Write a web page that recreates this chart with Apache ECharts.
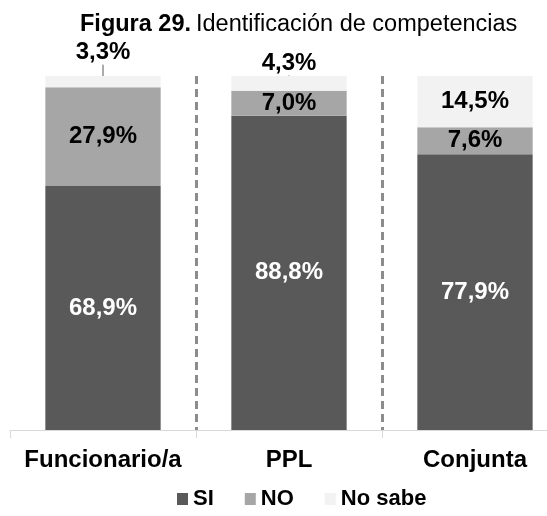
<!DOCTYPE html>
<html>
<head>
<meta charset="utf-8">
<script src="https://cdn.jsdelivr.net/npm/echarts@6/dist/echarts.min.js"></script>
<style>
  html, body { margin: 0; padding: 0; background: #fff; }
  #chart { width: 547px; height: 516px; }
</style>
</head>
<body>
<div id="chart"></div>
<script>
const categories = ['Funcionario/a', 'PPL', 'Conjunta'];
const siValues = [68.9, 88.8, 77.9];
const noValues = [27.9, 7.0, 7.6];
const noSabeValues = [3.3, 4.3, 14.5];
// the two small "No sabe" slices get their label pulled up with a leader line
const noSabeLift = [-29, -20, 0];

const FONT = 'Arial, "Liberation Sans", sans-serif';
const fmt = v => v.toFixed(1).replace('.', ',') + '%';

const chart = echarts.init(document.getElementById('chart'));

// the original picture is cropped on the right, so the plot runs past the canvas
chart.setOption({
    animation: false,
    title: {
        text: '{b|Figura 29.} {n|Identificación de competencias}',
        left: 75,
        top: 8,
        textStyle: {
            rich: {
                b: { fontFamily: FONT, fontSize: 23.5, fontWeight: 'bold', color: '#000' },
                n: { fontFamily: FONT, fontSize: 23.5, fontWeight: 'normal', color: '#000' }
            }
        }
    },
    legend: {
        bottom: 1,
        left: 172,
        itemWidth: 11,
        itemHeight: 12,
        itemGap: 31,
        icon: 'rect',
        textStyle: { fontFamily: FONT, fontSize: 22, fontWeight: 'bold', color: '#000' },
        data: ['SI', 'NO', 'No sabe']
    },
    grid: { left: 10, width: 558, top: 76, bottom: 86, outerBoundsMode: 'none' },
    xAxis: {
        type: 'category',
        data: categories,
        axisLine: { lineStyle: { color: '#d9d9d9', width: 1 } },
        axisTick: { show: true, length: 8, lineStyle: { color: '#d9d9d9' } },
        axisLabel: { interval: 0, margin: 18, fontFamily: FONT, fontSize: 24, fontWeight: 'bold', color: '#000' },
        splitLine: {
            show: true,
            interval: function (index) { return index > 0; },
            lineStyle: { color: '#8c8c8c', width: 3, type: [8, 5] }
        }
    },
    yAxis: {
        type: 'value',
        min: 0,
        max: 100,
        show: false
    },
    series: [
        {
            name: 'SI',
            type: 'bar',
            stack: 'tot',
            barWidth: '62%',
            itemStyle: { color: '#595959' },
            label: {
                show: true, position: 'inside', formatter: p => fmt(p.value),
                fontFamily: FONT, fontSize: 24, fontWeight: 'bold', color: '#fff'
            },
            data: siValues
        },
        {
            name: 'NO',
            type: 'bar',
            stack: 'tot',
            itemStyle: { color: '#a6a6a6' },
            label: {
                show: true, position: 'inside', formatter: p => fmt(p.value),
                fontFamily: FONT, fontSize: 24, fontWeight: 'bold', color: '#000'
            },
            data: noValues
        },
        {
            name: 'No sabe',
            type: 'bar',
            stack: 'tot',
            itemStyle: { color: '#f2f2f2' },
            label: {
                show: true, position: 'inside', formatter: p => fmt(p.value),
                fontFamily: FONT, fontSize: 24, fontWeight: 'bold', color: '#000'
            },
            labelLine: { show: true, lineStyle: { color: '#595959', width: 1 } },
            labelLayout: function (params) {
                return { dy: noSabeLift[params.dataIndex], hideOverlap: false };
            },
            data: noSabeValues
        }
    ]
});
</script>
</body>
</html>
